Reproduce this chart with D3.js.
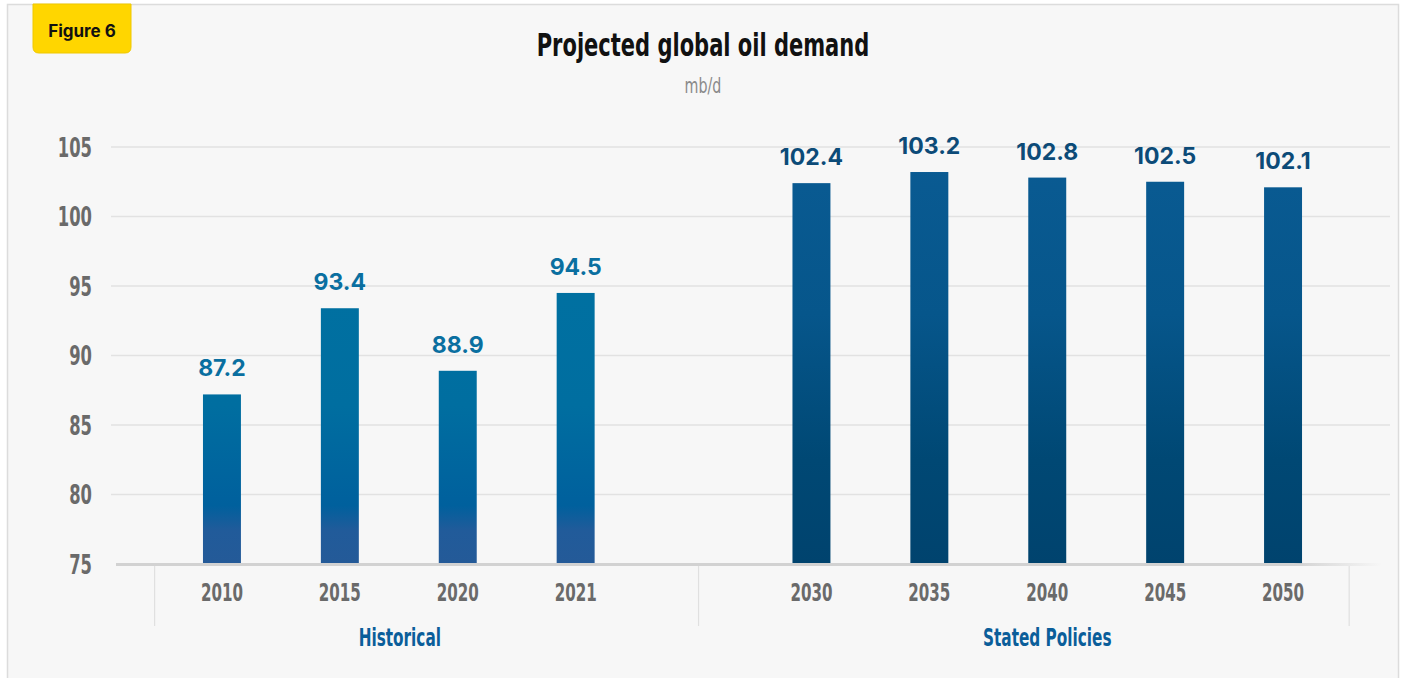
<!DOCTYPE html>
<html>
<head>
<meta charset="utf-8">
<script src="https://cdn.jsdelivr.net/npm/d3@7"></script>
<style>
  html, body { margin: 0; padding: 0; background: #ffffff; }
  svg { display: block; }
  .cond { font-family: "DejaVu Sans Condensed", "Liberation Sans Narrow", sans-serif; }
</style>
</head>
<body>
<svg id="chart" width="1403" height="678"></svg>
<script>
// Projected global oil demand, mb/d
const historicalYears = ["2010", "2015", "2020", "2021"];
const historicalValues = [87.2, 93.4, 88.9, 94.5];
const policyYears = ["2030", "2035", "2040", "2045", "2050"];
const policyValues = [102.4, 103.2, 102.8, 102.5, 102.1];
const groupNames = ["Historical", "Stated Policies"];
const yTicks = [75, 80, 85, 90, 95, 100, 105];

const svg = d3.select("#chart");

const rows = [
  ...historicalYears.map((y, i) => ({ year: y, value: historicalValues[i], group: 0 })),
  ...policyYears.map((y, i) => ({ year: y, value: policyValues[i], group: 1 }))
];

// an empty slot keeps the two groups apart
const slots = [...historicalYears, "gap", ...policyYears];

const x = d3.scaleBand().domain(slots).range([163, 1342])
  .paddingInner(0.678).paddingOuter(0.339);
const y = d3.scaleLinear().domain([75, 105]).range([564, 147]);

// horizontally squeezed text helper
function squeeze(sel, cx, sx) {
  sel.attr("transform", `translate(${cx},0) scale(${sx},1) translate(${-cx},0)`);
}

// gradients
const defs = svg.append("defs");
const g1 = defs.append("linearGradient").attr("id", "gradHist")
  .attr("gradientUnits", "userSpaceOnUse").attr("x1", 0).attr("x2", 0)
  .attr("y1", y(105)).attr("y2", y(75));
g1.append("stop").attr("offset", "0%").attr("stop-color", "#0073a2");
g1.append("stop").attr("offset", "62%").attr("stop-color", "#006ea0");
g1.append("stop").attr("offset", "86%").attr("stop-color", "#00609d");
g1.append("stop").attr("offset", "92%").attr("stop-color", "#215b9a");
g1.append("stop").attr("offset", "100%").attr("stop-color", "#245a98");

const g2 = defs.append("linearGradient").attr("id", "gradPol")
  .attr("gradientUnits", "userSpaceOnUse").attr("x1", 0).attr("x2", 0)
  .attr("y1", y(105)).attr("y2", y(75));
g2.append("stop").attr("offset", "0%").attr("stop-color", "#0a5b93");
g2.append("stop").attr("offset", "40%").attr("stop-color", "#06568b");
g2.append("stop").attr("offset", "75%").attr("stop-color", "#004874");
g2.append("stop").attr("offset", "100%").attr("stop-color", "#00436e");

const baseGrad = defs.append("linearGradient").attr("id", "baseFade")
  .attr("gradientUnits", "userSpaceOnUse").attr("x1", 116).attr("x2", 1382)
  .attr("y1", 0).attr("y2", 0);
baseGrad.append("stop").attr("offset", "0%").attr("stop-color", "#d2d2d2");
baseGrad.append("stop").attr("offset", "93%").attr("stop-color", "#d2d2d2");
baseGrad.append("stop").attr("offset", "100%").attr("stop-color", "#d2d2d2").attr("stop-opacity", 0);

// panel
svg.append("rect").attr("x", 7.5).attr("y", 4.5).attr("width", 1391).attr("height", 680)
  .attr("fill", "#f7f7f7").attr("stroke", "#dcdcdc").attr("stroke-width", 1.5);

// badge
const badgePath = d3.path();
(function () {
  const x0 = 33, x1 = 131, y0 = 4, y1 = 53, r = 6;
  badgePath.moveTo(x0, y0);
  badgePath.lineTo(x1, y0);
  badgePath.lineTo(x1, y1 - r);
  badgePath.quadraticCurveTo(x1, y1, x1 - r, y1);
  badgePath.lineTo(x0 + r, y1);
  badgePath.quadraticCurveTo(x0, y1, x0, y1 - r);
  badgePath.closePath();
})();
svg.append("path").attr("d", badgePath.toString()).attr("fill", "#ffd600")
  .attr("stroke", "#efc800").attr("stroke-width", 1);
svg.append("text").attr("x", 82).attr("y", 37).attr("text-anchor", "middle")
  .attr("font-family", "Inter, sans-serif").attr("font-weight", 700)
  .attr("font-size", 17).attr("fill", "#111").text("Figure 6");

// title
svg.append("text").attr("class", "cond").attr("x", 703).attr("y", 56)
  .attr("text-anchor", "middle").attr("font-weight", 700).attr("font-size", 32)
  .attr("fill", "#111").call(squeeze, 703, 0.73)
  .text("Projected global oil demand");
svg.append("text").attr("class", "cond").attr("x", 703).attr("y", 93)
  .attr("text-anchor", "middle").attr("font-size", 22).attr("fill", "#8a8a8a")
  .call(squeeze, 703, 0.72)
  .text("mb/d");

// gridlines
svg.append("g").selectAll("line").data(yTicks.filter(t => t > 75)).join("line")
  .attr("x1", 111).attr("x2", 1390)
  .attr("y1", d => y(d)).attr("y2", d => y(d))
  .attr("stroke", "#e2e2e2").attr("stroke-width", 1.5);

// y axis labels
const yAxis = svg.append("g").attr("transform", "translate(92,0)")
  .call(d3.axisLeft(y).tickValues(yTicks).tickSize(0).tickPadding(0));
yAxis.select(".domain").remove();
yAxis.selectAll("text").attr("class", "cond").attr("font-size", 26).attr("font-weight", 700)
  .attr("fill", "#6a6a6a").attr("dy", "0.36em")
  .attr("transform", "scale(0.7,1)").attr("x", 0);

// bars
svg.append("g").selectAll("rect").data(rows).join("rect")
  .attr("x", d => x(d.year)).attr("width", x.bandwidth())
  .attr("y", d => y(d.value)).attr("height", d => y(75) - y(d.value))
  .attr("fill", d => d.group === 0 ? "url(#gradHist)" : "url(#gradPol)");

// baseline
svg.append("rect").attr("x", 116).attr("y", y(75) - 1).attr("width", 1266).attr("height", 3)
  .attr("fill", "url(#baseFade)");

// value labels
svg.append("g").selectAll("text").data(rows).join("text")
  .attr("x", d => x(d.year) + x.bandwidth() / 2)
  .attr("y", d => y(d.value) - 18)
  .attr("text-anchor", "middle")
  .attr("font-family", "Inter, sans-serif").attr("font-weight", 700).attr("font-size", 23)
  .attr("fill", d => d.group === 0 ? "#0a6fa0" : "#0c4b78")
  .text(d => d.value.toFixed(1));

// x tick labels
const xAxis = svg.append("g").attr("transform", `translate(0,${y(75)})`)
  .call(d3.axisBottom(x).tickValues([...historicalYears, ...policyYears]).tickSize(0).tickPadding(0));
xAxis.select(".domain").remove();
xAxis.selectAll(".tick text").attr("class", "cond").attr("font-size", 24).attr("font-weight", 700)
  .attr("fill", "#6a6a6a").attr("y", 37).attr("dy", 0)
  .attr("transform", "scale(0.7,1)");

// group separators and names
const step = x.step();
const leftSep = x(historicalYears[0]) - step * 0.41;
const midSep = (x(historicalYears[historicalYears.length - 1]) + x(policyYears[0]) + x.bandwidth()) / 2 + 5;
const rightSep = x(policyYears[policyYears.length - 1]) + x.bandwidth() + step * 0.4;
svg.append("g").selectAll("line").data([leftSep, midSep, rightSep]).join("line")
  .attr("x1", d => d).attr("x2", d => d)
  .attr("y1", y(75) + 2).attr("y2", 626)
  .attr("stroke", "#e0e0e0").attr("stroke-width", 1.2);

const groupCenters = [
  (x(historicalYears[0]) + x(historicalYears[3]) + x.bandwidth()) / 2 + 1,
  (x(policyYears[0]) + x(policyYears[4]) + x.bandwidth()) / 2
];
svg.append("g").selectAll("text").data(groupNames).join("text")
  .attr("class", "cond")
  .attr("transform", (d, i) => `translate(${groupCenters[i]},646) scale(0.68,1)`)
  .attr("text-anchor", "middle").attr("font-size", 25).attr("font-weight", 700)
  .attr("fill", "#0b5e9a").text(d => d);
</script>
</body>
</html>
